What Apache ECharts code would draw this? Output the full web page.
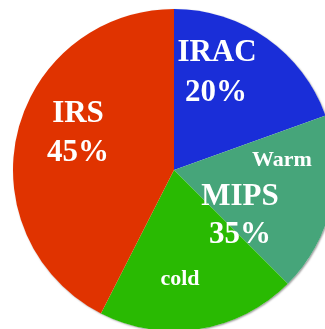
<!DOCTYPE html>
<html>
<head>
<meta charset="utf-8">
<script src="https://cdn.jsdelivr.net/npm/echarts@6/dist/echarts.min.js"></script>
<style>
  html, body { margin: 0; padding: 0; background: #fff; }
  #pie { width: 325px; height: 329px; }
</style>
</head>
<body>
<div id="pie"></div>
<script>
var sliceNames = ['IRAC', 'Warm', 'cold', 'IRS'];
var sliceValues = [19.5, 18, 20, 42.5];
var sliceColors = ['#1a2ed8', '#46a57a', '#29ba02', '#e03300'];

// text written on the pie
var bigLabels = ['IRAC', '20%', 'IRS', '45%', 'MIPS', '35%'];
var smallLabels = ['Warm', 'cold'];

var pie = echarts.init(document.getElementById('pie'));

var bigPos = [[217, 53], [216, 93], [78, 114], [78, 153], [240, 197], [240, 235]];
var smallPos = [[282, 160], [180, 279]];

var texts = [];
bigLabels.forEach(function (t, i) {
    texts.push({
        type: 'text', x: bigPos[i][0], y: bigPos[i][1], z: 100,
        style: {
            text: t, fill: '#fff', textAlign: 'center', textVerticalAlign: 'middle',
            font: 'bold 31px "Liberation Serif"'
        }
    });
});
smallLabels.forEach(function (t, i) {
    texts.push({
        type: 'text', x: smallPos[i][0], y: smallPos[i][1], z: 100,
        style: {
            text: t, fill: '#fff', textAlign: 'center', textVerticalAlign: 'middle',
            font: 'bold 22px "Liberation Serif"'
        }
    });
});

var option = {
    backgroundColor: '#fff',
    animation: false,
    series: [{
        // soft edge shadow behind the whole disc
        type: 'pie',
        z: 1,
        silent: true,
        center: [174, 170],
        radius: 161,
        label: { show: false },
        labelLine: { show: false },
        itemStyle: {
            color: '#fff',
            borderWidth: 0,
            shadowColor: 'rgba(0,0,0,0.4)',
            shadowBlur: 2,
            shadowOffsetX: 1,
            shadowOffsetY: 1
        },
        data: [{ name: 'bg', value: 1 }]
    }, {
        type: 'pie',
        z: 2,
        center: [174, 170],
        radius: 161,
        startAngle: 90,
        clockwise: true,
        label: { show: false },
        labelLine: { show: false },
        emphasis: { disabled: true },
        itemStyle: { borderWidth: 0 },
        data: sliceNames.map(function (n, i) {
            return { name: n, value: sliceValues[i], itemStyle: { color: sliceColors[i] } };
        })
    }],
    graphic: texts
};
pie.setOption(option);
</script>
</body>
</html>
